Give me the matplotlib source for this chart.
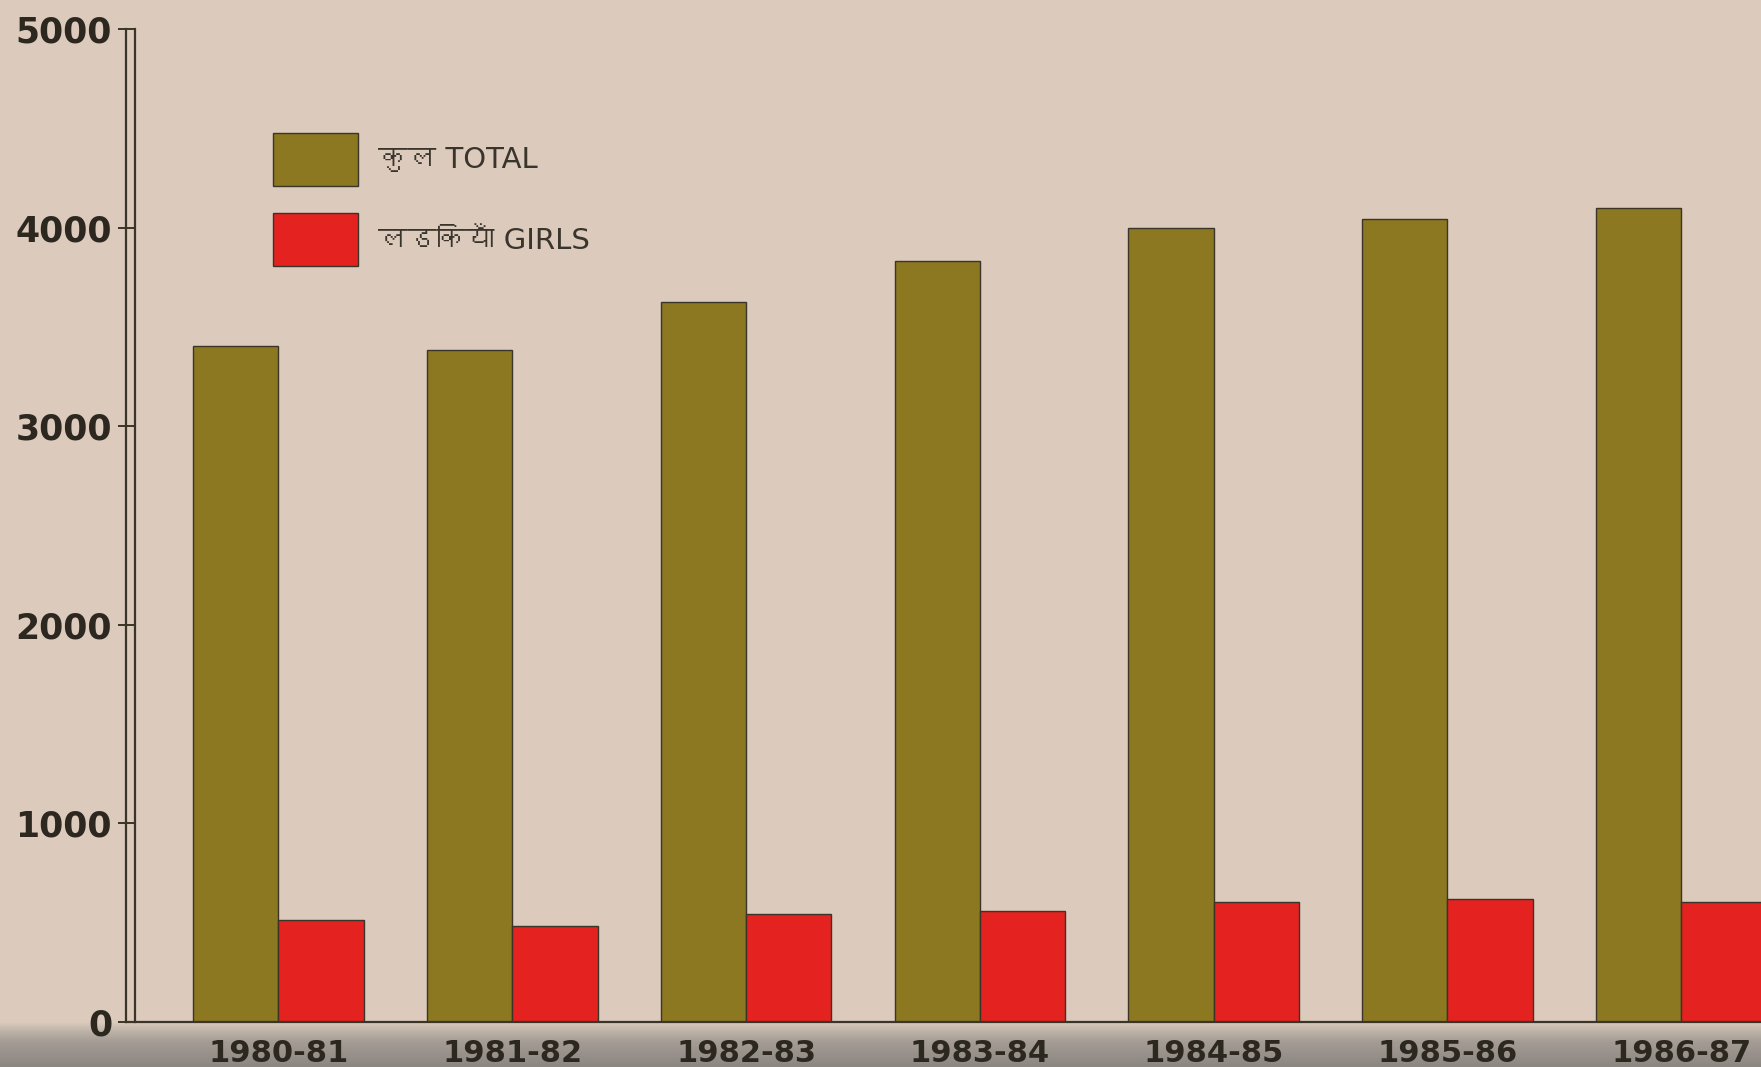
import numpy as np
import matplotlib
matplotlib.use('Agg')
import matplotlib.pyplot as plt
from matplotlib import font_manager
from matplotlib.ft2font import FT2Font

# 数据
years = ['1980-81', '1981-82', '1982-83', '1983-84', '1984-85', '1985-86', '1986-87']
total = [3405, 3385, 3625, 3830, 4000, 4045, 4100]
girls = [515, 485, 545, 560, 605, 620, 605]
yticks = [0, 1000, 2000, 3000, 4000, 5000]
label_total = 'कुल TOTAL'
label_girls = 'लडकियाँ GIRLS'


def find_devanagari_font():
    for f in font_manager.fontManager.ttflist:
        try:
            if 0x0915 in FT2Font(f.fname).get_charmap():
                return f.name
        except Exception:
            continue
    return None


dev = find_devanagari_font()
families = ['DejaVu Sans'] + ([dev] if dev else [])
plt.rcParams['font.family'] = families

bg = '#dccabc'
olive = '#8b7820'
red = '#e4221f'
ink = '#3b3428'

fig = plt.figure(figsize=(17.61, 10.67), dpi=100, facecolor=bg)

# scanner shadow along the bottom edge
sh = fig.add_axes([0, 0, 1, 0.042], zorder=-5)
grad = np.linspace(0, 1, 60).reshape(-1, 1)
cm = matplotlib.colors.LinearSegmentedColormap.from_list(
    'sh', [(0, '#8d8782'), (0.55, '#a39b94'), (0.8, '#bdb2a8'), (1, bg)])
sh.imshow(grad, aspect='auto', cmap=cm, extent=[0, 1, 0, 1], origin='lower')
sh.axis('off')

ax = fig.add_axes([126 / 1761, 45 / 1067, 1 - 126 / 1761, 993 / 1067])
ax.patch.set_visible(False)

x = np.arange(len(years))
w = 0.365
ax.bar(x - w / 2, total, width=w, color=olive, edgecolor=ink, linewidth=1.0,
       label=label_total)
ax.bar(x + w / 2, girls, width=w, color=red, edgecolor=ink, linewidth=1.0,
       label=label_girls)

ax.set_xlim(-0.652, 6.341)
ax.set_ylim(0, 5000)

for s in ['top', 'right']:
    ax.spines[s].set_visible(False)
ax.spines['left'].set_color(ink)
ax.spines['bottom'].set_color(ink)
ax.spines['left'].set_linewidth(1.6)
ax.spines['bottom'].set_linewidth(1.6)
# second (inner) rule of the double y axis
ax.plot([0.0055, 0.0055], [0, 1], transform=ax.transAxes, color=ink, lw=1.6,
        clip_on=False)

ax.set_yticks(yticks)
ax.set_yticklabels([str(v) for v in yticks], fontsize=25, fontweight='bold', color='#2c2820')
ax.tick_params(axis='y', direction='inout', length=12, width=1.4, color=ink, pad=4)

ax.set_xticks(x)
ax.set_xticklabels(years, fontsize=22, fontweight='bold', color='#2c2820')
ax.tick_params(axis='x', length=0, pad=12)

ax.legend(loc='upper left', bbox_to_anchor=(0.0899, 0.8953), frameon=False,
          fontsize=21, handlelength=2.91, handleheight=2.4, labelspacing=0.95,
          handletextpad=0.68, borderpad=0, borderaxespad=0, labelcolor='#3a352c')

plt.savefig('out.png', dpi=100, facecolor=bg)
